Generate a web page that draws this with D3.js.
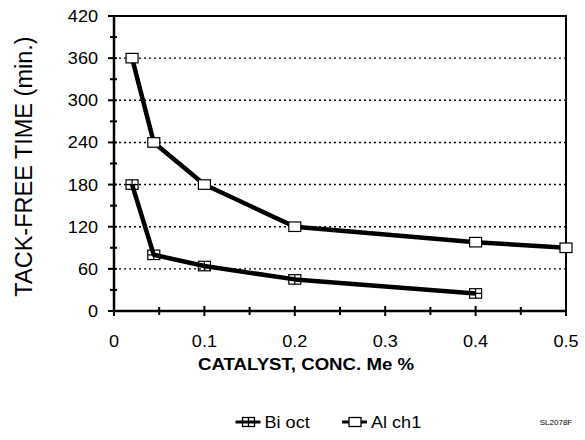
<!DOCTYPE html>
<html>
<head>
<meta charset="utf-8">
<script src="https://cdn.jsdelivr.net/npm/d3@7"></script>
<style>
  html, body { margin: 0; padding: 0; background: #fff; }
  svg { display: block; }
  text { font-family: "Liberation Sans", Arial, sans-serif; fill: #000; }
</style>
</head>
<body>
<svg id="chart" width="585" height="440"></svg>
<script>
// Catalyst concentration (Me %) vs tack-free time (min.)
const biOctConc = [0.02, 0.044, 0.1, 0.2, 0.4];
const biOctTime = [180, 80, 64, 45, 25];
const alCh1Conc = [0.02, 0.044, 0.1, 0.2, 0.4, 0.5];
const alCh1Time = [360, 240, 180, 120, 98, 90];

const xTicks = [0, 0.1, 0.2, 0.3, 0.4, 0.5];
const xMinorTicks = [0.05, 0.15, 0.25, 0.35, 0.45];
const yTicks = [0, 60, 120, 180, 240, 300, 360, 420];
const yMinorTicks = [30, 90, 150, 210, 270, 330, 390];
const gridValues = [60, 120, 180, 240, 300, 360];

const seriesNames = ["Bi oct", "Al ch1"];

const svg = d3.select("#chart");
const plotLeft = 114, plotRight = 566, plotTop = 16, plotBottom = 311;
const widen = 1.13; // slightly wide lettering

const x = d3.scaleLinear().domain([0, 0.5]).range([plotLeft, plotRight]);
const y = d3.scaleLinear().domain([0, 420]).range([plotBottom, plotTop]);

// dotted horizontal gridlines
svg.append("g").selectAll("line").data(gridValues).join("line")
  .attr("x1", plotLeft).attr("x2", plotRight)
  .attr("y1", d => y(d)).attr("y2", d => y(d))
  .attr("stroke", "#000").attr("stroke-width", 1.4)
  .attr("stroke-dasharray", "2,3");

// frame top and right
svg.append("path")
  .attr("d", `M${plotLeft},${plotTop}H${plotRight}V${plotBottom}`)
  .attr("fill", "none").attr("stroke", "#000").attr("stroke-width", 2);

// axis lines
svg.append("path")
  .attr("d", `M${plotLeft},${plotTop}V${plotBottom}H${plotRight}`)
  .attr("fill", "none").attr("stroke", "#000").attr("stroke-width", 2.5);

// y ticks (cross the axis)
const yt = svg.append("g");
yt.selectAll("line.maj").data(yTicks).join("line").attr("class", "maj")
  .attr("x1", plotLeft - 6).attr("x2", plotLeft + 3)
  .attr("y1", d => y(d)).attr("y2", d => y(d))
  .attr("stroke", "#000").attr("stroke-width", 2);
yt.selectAll("line.min").data(yMinorTicks).join("line").attr("class", "min")
  .attr("x1", plotLeft - 4).attr("x2", plotLeft + 3)
  .attr("y1", d => y(d)).attr("y2", d => y(d))
  .attr("stroke", "#000").attr("stroke-width", 2);
yt.selectAll("text").data(yTicks).join("text")
  .attr("transform", d => `translate(${plotLeft - 16},${y(d) + 6}) scale(${widen},1)`)
  .attr("text-anchor", "end").attr("font-size", 16)
  .text(d => d);

// x ticks (cross the axis)
const xt = svg.append("g");
xt.selectAll("line.maj").data(xTicks).join("line").attr("class", "maj")
  .attr("x1", d => x(d)).attr("x2", d => x(d))
  .attr("y1", plotBottom - 5).attr("y2", plotBottom + 5)
  .attr("stroke", "#000").attr("stroke-width", 2);
xt.selectAll("line.min").data(xMinorTicks).join("line").attr("class", "min")
  .attr("x1", d => x(d)).attr("x2", d => x(d))
  .attr("y1", plotBottom - 4).attr("y2", plotBottom + 4)
  .attr("stroke", "#000").attr("stroke-width", 2);
xt.selectAll("text").data(xTicks).join("text")
  .attr("transform", d => `translate(${x(d)},${plotBottom + 36}) scale(${widen},1)`)
  .attr("text-anchor", "middle").attr("font-size", 16)
  .text(d => d === 0 ? "0" : d3.format(".1f")(d));

// axis titles
svg.append("text")
  .attr("transform", `translate(${(plotLeft + plotRight) / 2 - 34},${plotBottom + 59}) scale(${widen},1)`)
  .attr("text-anchor", "middle").attr("font-size", 16.5).attr("font-weight", "bold")
  .text("CATALYST, CONC. Me %");
svg.append("text")
  .attr("transform", `translate(32,${(plotTop + plotBottom) / 2 + 3}) rotate(-90)`)
  .attr("text-anchor", "middle").attr("font-size", 23.5)
  .text("TACK-FREE TIME (min.)");

const line = d3.line().x(d => x(d[0])).y(d => y(d[1]));
const biPts = biOctConc.map((c, i) => [c, biOctTime[i]]);
const alPts = alCh1Conc.map((c, i) => [c, alCh1Time[i]]);

const mw = 12, mh = 9.5;
function drawSeries(pts, crossed) {
  svg.append("path").datum(pts).attr("d", line)
    .attr("fill", "none").attr("stroke", "#000").attr("stroke-width", 4.5)
    .attr("stroke-linejoin", "round");
  const g = svg.append("g");
  g.selectAll("rect").data(pts).join("rect")
    .attr("x", d => x(d[0]) - mw / 2).attr("y", d => y(d[1]) - mh / 2)
    .attr("width", mw).attr("height", mh)
    .attr("fill", crossed ? "none" : "#fff")
    .attr("stroke", "#000").attr("stroke-width", 1.2);
  if (crossed) {
    g.selectAll("path.cr").data(pts).join("path").attr("class", "cr")
      .attr("d", d => `M${x(d[0])},${y(d[1]) - mh / 2}V${y(d[1]) + mh / 2}M${x(d[0]) - mw / 2},${y(d[1])}H${x(d[0]) + mw / 2}`)
      .attr("stroke", "#000").attr("stroke-width", 1.2);
  }
}
drawSeries(biPts, true);
drawSeries(alPts, false);

// legend
const legY = 422;
const legend = svg.append("g");
const legX = [248.5, 355];
seriesNames.forEach((name, i) => {
  const cx = legX[i];
  legend.append("line").attr("x1", cx - 13).attr("x2", cx + 12)
    .attr("y1", legY).attr("y2", legY).attr("stroke", "#000").attr("stroke-width", 3);
  legend.append("rect").attr("x", cx - 6).attr("y", legY - 4.5).attr("width", 12).attr("height", 9)
    .attr("fill", i === 0 ? "none" : "#fff").attr("stroke", "#000").attr("stroke-width", 1.3);
  if (i === 0) {
    legend.append("path").attr("d", `M${cx},${legY - 4.5}V${legY + 4.5}`)
      .attr("stroke", "#000").attr("stroke-width", 1.3);
  }
  legend.append("text")
    .attr("transform", `translate(${cx + 16},${legY + 6}) scale(${widen},1)`)
    .attr("font-size", 16).text(name);
});
svg.append("text").attr("x", 556).attr("y", legY + 3).attr("text-anchor", "middle")
  .attr("font-size", 8).text("SL2078F");
</script>
</body>
</html>
